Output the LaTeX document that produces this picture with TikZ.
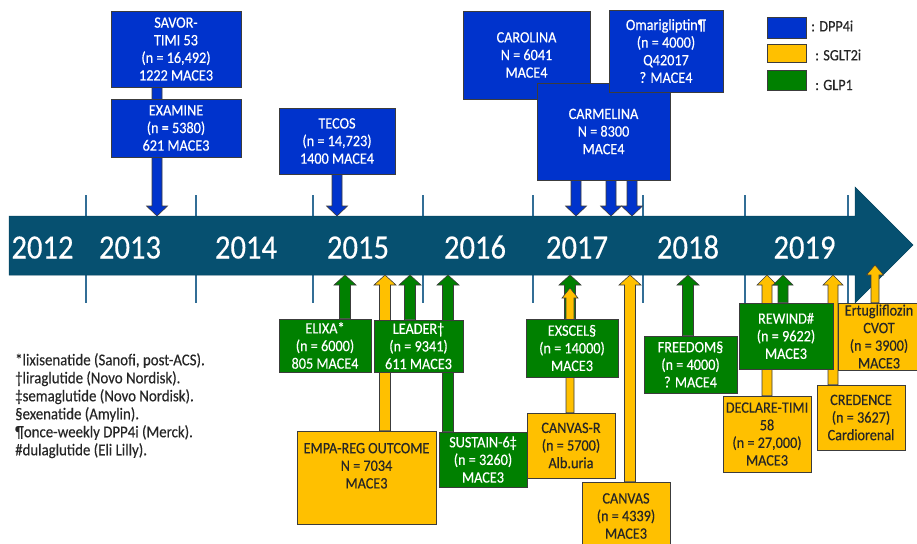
\documentclass[tikz,border=0pt]{standalone}
\usepackage{fontspec}
\setmainfont{Carlito}[FakeStretch=0.9, FakeBold=0.35]
\usetikzlibrary{calc}
\definecolor{dpp}{RGB}{0,51,204}
\definecolor{sglt}{RGB}{255,192,0}
\definecolor{glp}{RGB}{0,128,0}
\definecolor{bandc}{RGB}{6,80,112}
\definecolor{tickc}{RGB}{50,110,150}
\definecolor{edgec}{RGB}{60,60,60}
\definecolor{darktxt}{RGB}{38,38,38}
\pgfdeclarelayer{bg}
\pgfdeclarelayer{arrows}
\pgfsetlayers{bg,arrows,main}
% block arrow: #1 fill, #2 shaft half width, #3 head half width, #4 start, #5 tip
\newcommand\blkarr[5]{%
  \path[draw=edgec, line width=0.6pt, fill=#1] let \p1=#4, \p2=#5, \n1={sign(\y2-\y1)*10} in
    ({\x1-#2pt},\y1) -- ({\x1-#2pt},{\y2-\n1*1pt}) -- ({\x1-#3pt},{\y2-\n1*1pt}) -- (\x1,\y2)
    -- ({\x1+#3pt},{\y2-\n1*1pt}) -- ({\x1+#2pt},{\y2-\n1*1pt}) -- ({\x1+#2pt},\y1) -- cycle;}
\tikzset{
  box/.style={draw=edgec, line width=0.6pt, inner sep=0pt, align=center,
    font=\fontsize{15.8}{17.6}\selectfont},
  sz/.style 2 args={minimum width=#1pt, minimum height=#2pt},
  dbox/.style={box, fill=dpp, text=white},
  gbox/.style={box, fill=glp, text=white},
  ybox/.style={box, fill=sglt, text=darktxt},
  year/.style={anchor=base, inner sep=0pt, text=white, font=\fontsize{34}{40}\selectfont},
  tickline/.style={draw=tickc, line width=1.4pt},
  legtxt/.style={anchor=west, inner sep=0pt, text=darktxt, font=\fontsize{15.8}{17.6}\selectfont},
  note/.style={anchor=north west, inner sep=0pt, align=left, text=darktxt,
    font=\fontsize{16.5}{18}\selectfont}
}
\begin{document}
\begin{tikzpicture}[x=1pt,y=-1pt]
\useasboundingbox (0,0) rectangle (917,543);
\clip (0,0) rectangle (917,543);

% ---------- timeline band ----------
\begin{pgfonlayer}{bg}
  \foreach \x in {86,196,313,423,533,643,745,848} {
    \draw[tickline] (\x,195) -- (\x,216);
    \draw[tickline] (\x,275) -- (\x,303);
  }
  \fill[bandc, draw=bandc!85!black, line width=0.5pt]
    (9,216) -- (855,216) -- (855,187) -- (913,245) -- (855,303) -- (855,275) -- (9,275) -- cycle;
\end{pgfonlayer}
\node[year] (y2012) at (42.5,258.5) {2012};
\node[year] (y2013) at (130,258.5) {2013};
\node[year] (y2014) at (246,258.5) {2014};
\node[year] (y2015) at (358,258.5) {2015};
\node[year] (y2016) at (475,258.5) {2016};
\node[year] (y2017) at (577,258.5) {2017};
\node[year] (y2018) at (688,258.5) {2018};
\node[year] (y2019) at (804.5,258.5) {2019};

% ---------- arrow tip coordinates ----------
\coordinate (tSav) at (157,216);
\coordinate (tTec) at (337,216);
\coordinate (tCar) at (576,216);
\coordinate (tCrm) at (611,216);
\coordinate (tOma) at (632,216);
\coordinate (tEli) at (345,275);
\coordinate (tEmp) at (385,275);
\coordinate (tLea) at (410,275);
\coordinate (tSus) at (448,275);
\coordinate (tExs) at (570,275);
\coordinate (tCvr) at (570,288);
\coordinate (tCvs) at (630,275);
\coordinate (tFre) at (688,275);
\coordinate (tDec) at (767,275);
\coordinate (tRew) at (783,275);
\coordinate (tCre) at (833,275);
\coordinate (tErt) at (875,265);

% ---------- DPP4i boxes ----------
\node[dbox, sz={130}{76}] (savor) at (176,49) {SAVOR-\\TIMI 53\\(n = 16,492)\\1222 MACE3};
\node[dbox, sz={130}{58}] (examine) at (176,128) {EXAMINE\\(n = 5380)\\621 MACE3};
\node[dbox, sz={116}{66}] (tecos) at (337,141) {TECOS\\(n = 14,723)\\1400 MACE4};
\node[dbox, sz={127}{88}] (carolina) at (526.5,55) {CAROLINA\\N = 6041\\MACE4};
\node[dbox, sz={133}{97}] (carmelina) at (603.5,131.5) {CARMELINA\\N = 8300\\MACE4};
\node[dbox, sz={114}{82}] (omari) at (666,51) {Omarigliptin¶\\(n = 4000)\\Q42017\\? MACE4};

% ---------- legend ----------
\node[box, fill=dpp, sz={39}{21}] (legD) at (786.5,27.5) {};
\node[box, fill=sglt, sz={39}{18}] (legS) at (786.5,53) {};
\node[box, fill=glp, sz={39}{20}] (legG) at (786.5,80) {};
\node[legtxt] (legDt) at (811,26) {: DPP4i};
\node[legtxt] (legSt) at (815,55) {: SGLT2i};
\node[legtxt] (legGt) at (815,85) {: GLP1};

% ---------- GLP1 / SGLT2i boxes ----------
\node[gbox, sz={92}{53}] (elixa) at (325,345.5) {ELIXA*\\(n = 6000)\\805 MACE4};
\node[gbox, sz={89}{52}] (leader) at (418.5,346) {LEADER†\\(n = 9341)\\611 MACE3};
\node[ybox, sz={139}{93}] (empa) at (366.5,477.5) {EMPA-REG OUTCOME\\N = 7034\\MACE3\\[6pt]};
\node[gbox, sz={88}{55}] (sustain) at (483,459.5) {SUSTAIN-6‡\\(n = 3260)\\MACE3};
\node[gbox, sz={92}{58}] (exscel) at (572,348) {EXSCEL§\\(n = 14000)\\MACE3};
\node[ybox, sz={88}{65}] (canvasr) at (571,445.5) {CANVAS-R\\(n = 5700)\\Alb.uria};
\node[ybox, sz={88}{68}] (canvas) at (626,516) {CANVAS\\(n = 4339)\\MACE3};
\node[gbox, sz={93}{57}] (freedom) at (690.5,364.5) {FREEDOM§\\(n = 4000)\\? MACE4};
\node[gbox, sz={94}{66}] (rewind) at (786,336) {REWIND\#\\(n = 9622)\\MACE3};
\node[ybox, sz={88}{76}] (declare) at (767,434) {DECLARE-TIMI\\58\\(n = 27,000)\\MACE3};
\node[ybox, sz={88}{65}] (credence) at (861,417.5) {CREDENCE\\(n = 3627)\\Cardiorenal};
\node[ybox, sz={82}{67}] (ertu) at (879,336.5) {Ertugliflozin\\CVOT\\(n = 3900)\\MACE3};

% ---------- arrows ----------
\begin{pgfonlayer}{arrows}
  \blkarr{dpp}{5}{10.5}{(savor.south -| tSav)}{(tSav)}
  \blkarr{dpp}{5}{10.5}{(tecos.south -| tTec)}{(tTec)}
  \blkarr{dpp}{5}{10.5}{(carolina.south -| tCar)}{(tCar)}
  \blkarr{dpp}{5}{10.5}{(carmelina.south -| tCrm)}{(tCrm)}
  \blkarr{dpp}{5}{10.5}{(omari.south -| tOma)}{(tOma)}
  \blkarr{glp}{5.5}{11}{(elixa.north -| tEli)}{(tEli)}
  \blkarr{sglt}{5.5}{11}{(empa.north -| tEmp)}{(tEmp)}
  \blkarr{glp}{5.5}{11}{(leader.north -| tLea)}{(tLea)}
  \blkarr{glp}{5.5}{11}{(sustain.north -| tSus)}{(tSus)}
  \blkarr{glp}{5.5}{11}{(exscel.north -| tExs)}{(tExs)}
  \blkarr{sglt}{4}{8}{(canvasr.north -| tCvr)}{(tCvr)}
  \blkarr{sglt}{5.5}{11}{(canvas.north -| tCvs)}{(tCvs)}
  \blkarr{glp}{5.5}{11}{(freedom.north -| tFre)}{(tFre)}
  \blkarr{sglt}{5}{10}{(declare.north -| tDec)}{(tDec)}
  \blkarr{glp}{5}{10}{(rewind.north -| tRew)}{(tRew)}
  \blkarr{sglt}{5}{10}{(credence.north -| tCre)}{(tCre)}
  \blkarr{sglt}{4}{8.5}{(ertu.north -| tErt)}{(tErt)}
\end{pgfonlayer}

% ---------- footnotes ----------
\node[note] (notes) at (15,353) {*lixisenatide (Sanofi, post-ACS).\\
†liraglutide (Novo Nordisk).\\
‡semaglutide (Novo Nordisk).\\
§exenatide (Amylin).\\
¶once-weekly DPP4i (Merck).\\
\#dulaglutide (Eli Lilly).};
\end{tikzpicture}
\end{document}
